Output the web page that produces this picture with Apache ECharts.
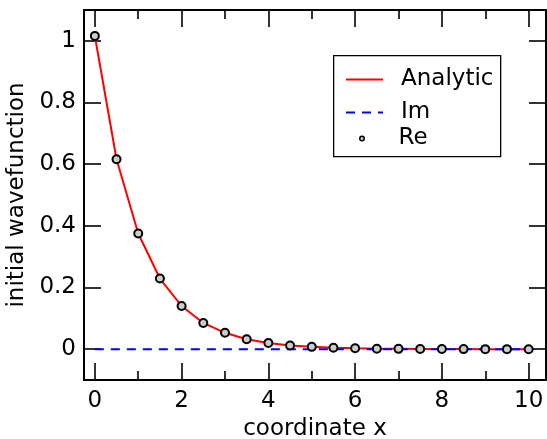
<!DOCTYPE html>
<html><head><meta charset="utf-8">
<script src="https://cdn.jsdelivr.net/npm/echarts@6/dist/echarts.min.js"></script>
<style>html,body{margin:0;padding:0;background:#fff}#c{width:547px;height:439px}</style>
</head><body><div id="c"></div>
<script>
const xValues = [0, 0.5, 1, 1.5, 2, 2.5, 3, 3.5, 4, 4.5, 5, 5.5, 6, 6.5, 7, 7.5, 8, 8.5, 9, 9.5, 10];
const analyticValues = [1.016, 0.616, 0.375, 0.229, 0.140, 0.085, 0.053, 0.032, 0.020, 0.012, 0.0075, 0.0045, 0.0027, 0.0016, 0.0010, 0.0006, 0.0004, 0.0002, 0.0001, 0.0001, 0.0000];
const imValues = [0, 0, 0, 0, 0, 0, 0, 0, 0, 0, 0, 0, 0, 0, 0, 0, 0, 0, 0, 0, 0];
const reValues = [1.016, 0.616, 0.375, 0.229, 0.140, 0.085, 0.053, 0.032, 0.020, 0.012, 0.0075, 0.0045, 0.0027, 0.0016, 0.0010, 0.0006, 0.0004, 0.0002, 0.0001, 0.0001, 0.0000];
const xMajorTicks = [0, 2, 4, 6, 8, 10];
const xMinorTicks = [1, 3, 5, 7, 9];
const yTicks = [0, 0.2, 0.4, 0.6, 0.8, 1];
const seriesNames = ['Analytic', 'Im', 'Re'];
const xTitle = 'coordinate x';
const yTitle = 'initial wavefunction';

const FONT = 'DejaVu Sans';
const X_MIN = -0.25, X_MAX = 10.4, Y_MIN = -0.1, Y_MAX = 1.1;

function xAxis(position, ticks, len, withLabels, withLine) {
  return {
    type: 'value', position: position, min: X_MIN, max: X_MAX,
    splitLine: { show: false },
    axisLine: { show: withLine, onZero: false, lineStyle: { color: '#000', width: 2 } },
    axisTick: { show: true, inside: true, length: len, customValues: ticks, lineStyle: { color: '#000', width: 1.6 } },
    axisLabel: withLabels ? { show: true, customValues: ticks, margin: 10, color: '#000', fontFamily: FONT, fontSize: 23 } : { show: false },
    name: withLabels ? xTitle : '', nameLocation: 'middle', nameGap: 37,
    nameTextStyle: { color: '#000', fontFamily: FONT, fontSize: 23 }
  };
}
function yAxis(position, withLabels) {
  return {
    type: 'value', position: position, min: Y_MIN, max: Y_MAX,
    splitLine: { show: false },
    axisLine: { show: true, onZero: false, lineStyle: { color: '#000', width: 2 } },
    axisTick: { show: true, inside: true, length: 17, customValues: yTicks, lineStyle: { color: '#000', width: 1.6 } },
    axisLabel: withLabels ? { show: true, customValues: yTicks, margin: 8, color: '#000', fontFamily: FONT, fontSize: 23 } : { show: false },
    name: withLabels ? yTitle : '', nameLocation: 'middle', nameGap: 54,
    nameTextStyle: { color: '#000', fontFamily: FONT, fontSize: 23 }
  };
}

const legendText = { color: '#000', fontFamily: FONT, fontSize: 23, padding: [0, 0, 0, 13] };

const option = {
  animation: false,
  backgroundColor: '#fff',
  grid: { left: 84, right: 1, top: 10, bottom: 59, containLabel: false, outerBoundsMode: 'none' },
  xAxis: [
    xAxis('bottom', xMajorTicks, 17, true, true),
    xAxis('bottom', xMinorTicks, 9, false, false),
    xAxis('top', xMajorTicks, 17, false, true),
    xAxis('top', xMinorTicks, 9, false, false)
  ],
  yAxis: [yAxis('left', true), yAxis('right', false)],
  graphic: [{
    type: 'rect', left: 333, top: 55, z: 10,
    shape: { width: 167, height: 101 },
    style: { fill: '#fff', stroke: '#000', lineWidth: 1.3 }
  }],
  legend: [
    { data: [{ name: seriesNames[0], itemStyle: { opacity: 0 } }], left: 345, top: 68, padding: 0, itemWidth: 37, itemHeight: 10, textStyle: legendText, z: 20, selectedMode: false },
    { data: [{ name: seriesNames[1], itemStyle: { opacity: 0 } }], left: 345, top: 101, padding: 0, itemWidth: 37, itemHeight: 10, textStyle: legendText, z: 20, selectedMode: false },
    { data: [{ name: seriesNames[2], itemStyle: { borderWidth: 1.5 } }], left: 359, top: 127, padding: 0, itemWidth: 37, itemHeight: 4.5, textStyle: { color: '#000', fontFamily: FONT, fontSize: 23, padding: [0, 0, 0, 13] }, z: 20, selectedMode: false }
  ],
  series: [
    {
      name: seriesNames[0], type: 'line', xAxisIndex: 0, yAxisIndex: 0,
      symbol: 'none', showSymbol: false,
      lineStyle: { color: '#ff0000', width: 2 }, itemStyle: { color: '#ff0000' },
      data: xValues.map((x, i) => [x, analyticValues[i]]), z: 2
    },
    {
      name: seriesNames[1], type: 'line', xAxisIndex: 0, yAxisIndex: 0,
      symbol: 'none', showSymbol: false,
      lineStyle: { color: '#0000ff', width: 2, type: [9, 7] }, itemStyle: { color: '#0000ff' },
      data: xValues.map((x, i) => [x, imValues[i]]), z: 3
    },
    {
      name: seriesNames[2], type: 'scatter', xAxisIndex: 0, yAxisIndex: 0,
      symbol: 'circle', symbolSize: 8,
      itemStyle: { color: '#cccccc', borderColor: '#000', borderWidth: 2, opacity: 1 },
      data: xValues.map((x, i) => [x, reValues[i]]), z: 4
    }
  ]
};
const chart = echarts.init(document.getElementById('c'), null, { renderer: 'canvas' });
chart.setOption(option);
</script>
</body></html>
